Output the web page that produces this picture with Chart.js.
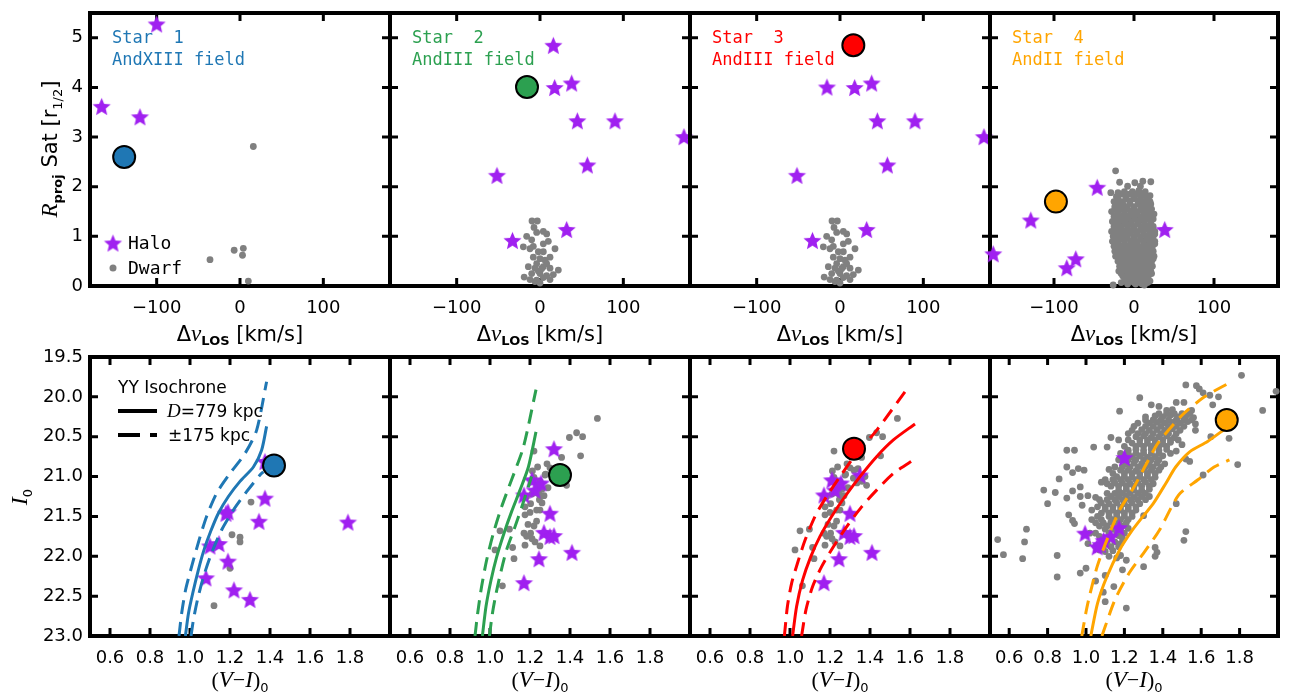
<!DOCTYPE html>
<html>
<head>
<meta charset="utf-8">
<script src="https://cdn.jsdelivr.net/npm/chart.js@4.4.0/dist/chart.umd.min.js"></script>
<style>
html, body { margin: 0; padding: 0; background: #fff; }
#wrap { position: relative; width: 1291px; height: 694px; overflow: hidden; background: #fff; }
#wrap canvas { position: absolute; left: 0; top: 0; }
</style>
</head>
<body>
<div id="wrap"></div>
<script>
// ---------------- data ----------------
// tick labels
const velTicks = [-100, 0, 100];
const radTicks = [0, 1, 2, 3, 4, 5];
const colTicks = [0.6, 0.8, 1.0, 1.2, 1.4, 1.6, 1.8];
const magTicks = [19.5, 20.0, 20.5, 21.0, 21.5, 22.0, 22.5, 23.0];

const starNames = ["Star  1", "Star  2", "Star  3", "Star  4"];
const fieldNames = ["AndXIII field", "AndIII field", "AndIII field", "AndII field"];

// the four target stars: [dv_LOS, R_proj] and [(V-I)_0, I_0]
const targetTop = [[-139, 2.60], [-15.6, 4.01], [16, 4.85], [-97.6, 1.70]];
const targetCmd = [[1.42, 20.86], [1.35, 20.98], [1.32, 20.65], [1.733, 20.29]];

// halo stars, top row
const haloAndXIIITop = [[-100, 5.28], [-166, 3.62], [-120, 3.41]];
const haloAndIIITop = [[17.6, 4.0], [38, 4.09], [44.8, 3.33], [90, 3.33], [172.8, 3.01],
  [56.8, 2.44], [-51.6, 2.23], [32, 1.14], [-33, 0.92]];
const haloAndIITop = [[-46, 1.99], [-129, 1.33], [38.4, 1.14], [-72.8, 0.55], [-84, 0.37], [-176, 0.65]];

// halo stars, bottom row
const haloAndXIIICmd = [[1.375, 20.81], [1.375, 21.27], [1.18, 21.46], [1.19, 21.44], [1.345, 21.56],
  [1.79, 21.57], [1.10, 21.87], [1.145, 21.84], [1.19, 22.06], [1.08, 22.27], [1.22, 22.42], [1.30, 22.54]];
const haloAndIIICmd = [[1.21, 21.04], [1.255, 21.08], [1.225, 21.17], [1.17, 21.23], [1.30, 21.46],
  [1.27, 21.70], [1.30, 21.75], [1.32, 21.74], [1.41, 21.95], [1.245, 22.03], [1.17, 22.33]];
const haloAndIICmd = [[1.20, 20.76], [0.995, 21.71], [1.172, 21.64], [1.128, 21.75], [1.092, 21.80],
  [1.058, 21.88], [1.075, 21.85]];

// dwarf members, top row
const dwarfAndXIIITop = [[16, 2.81], [-36, 0.53], [-7, 0.72], [4, 0.76], [3, 0.62], [10, 0.10]];
const dwarfAndIIITop = [[-9.6, 1.31], [-3.2, 1.31], [-7.2, 1.18], [-4, 1.08], [4, 1.10], [8, 1.05],
  [-16, 1.0], [-10, 0.93], [4, 0.85], [-20, 0.79], [-12, 0.75], [18, 0.75], [-2, 0.69], [4, 0.69],
  [-8, 0.58], [0, 0.55], [6, 0.52], [12, 0.58], [-4, 0.45], [-14, 0.39], [-6, 0.36], [4, 0.39],
  [12, 0.36], [22, 0.32], [-10, 0.25], [0, 0.25], [8, 0.21], [16, 0.23], [-19, 0.18], [-12, 0.13],
  [-4, 0.12], [4, 0.17], [12, 0.13], [0, 0.06], [-6, 0.09], [2, 0.35], [-2, 0.3], [8, 0.45],
  [-8, 0.8], [10, 0.9]];
const dwarfAndIITop = [
  [-23, 2.32], [-18, 2.09], [1, 2.08], [11, 2.11], [21, 2.10], [-29, 1.88], [-20, 1.88], [-8, 2.01], [8, 2.01], [20, 1.82],
  [-12, 1.9], [-2, 1.9], [6, 1.92], [14, 1.9],
  [-16, 1.85], [-6, 1.85], [4, 1.86], [12, 1.85],
  [-22, 1.8], [-10, 1.8], [0, 1.79], [8, 1.81], [15, 1.8],
  [-20, 1.75], [-10, 1.75], [0, 1.76], [8, 1.75], [16, 1.74],
  [-25, 1.7], [-15, 1.7], [-5, 1.71], [5, 1.7], [12, 1.69], [20, 1.7],
  [-21, 1.65], [-14, 1.65], [-5, 1.66], [5, 1.65], [14, 1.64], [21, 1.65],
  [-24, 1.6], [-18, 1.61], [-10, 1.6], [0, 1.6], [10, 1.59], [18, 1.6],
  [-24, 1.55], [-16, 1.55], [-8, 1.56], [0, 1.55], [8, 1.54], [16, 1.55], [22, 1.55],
  [-28, 1.5], [-20, 1.5], [-12, 1.51], [-4, 1.5], [4, 1.49], [12, 1.5], [20, 1.5],
  [-21, 1.45], [-12, 1.45], [-4, 1.46], [4, 1.45], [12, 1.44], [19, 1.45], [25, 1.45],
  [-25, 1.4], [-16, 1.4], [-8, 1.41], [0, 1.4], [8, 1.39], [16, 1.4], [22, 1.41],
  [-22, 1.35], [-15, 1.35], [-7, 1.36], [1, 1.35], [9, 1.34], [17, 1.35], [24, 1.35],
  [-27, 1.3], [-19, 1.3], [-11, 1.31], [-3, 1.3], [5, 1.29], [13, 1.3], [21, 1.3],
  [-21, 1.25], [-12, 1.25], [-4, 1.26], [5, 1.25], [13, 1.24], [21, 1.25],
  [-25, 1.2], [-17, 1.2], [-8, 1.21], [0, 1.2], [9, 1.19], [17, 1.2], [24, 1.2],
  [-24, 1.15], [-16, 1.15], [-8, 1.16], [0, 1.15], [8, 1.14], [16, 1.15], [23, 1.15],
  [-28, 1.1], [-20, 1.1], [-12, 1.11], [-4, 1.1], [4, 1.09], [12, 1.1], [20, 1.1], [26, 1.1],
  [-22, 1.05], [-14, 1.05], [-5, 1.06], [4, 1.05], [12, 1.04], [20, 1.05], [26, 1.05],
  [-26, 1.0], [-18, 1.0], [-9, 1.01], [0, 1.0], [8, 0.99], [16, 1.0], [24, 1.0],
  [-23, 0.95], [-16, 0.95], [-8, 0.96], [0, 0.95], [8, 0.94], [16, 0.95], [22, 0.95],
  [-27, 0.9], [-20, 0.9], [-12, 0.91], [-4, 0.9], [4, 0.89], [12, 0.9], [19, 0.9], [26, 0.9],
  [-21, 0.85], [-12, 0.85], [-4, 0.86], [4, 0.85], [12, 0.84], [20, 0.85], [26, 0.85],
  [-25, 0.8], [-17, 0.8], [-8, 0.81], [0, 0.8], [8, 0.79], [16, 0.8], [23, 0.8],
  [-20, 0.75], [-12, 0.75], [-3, 0.76], [5, 0.75], [13, 0.74], [20, 0.75],
  [-24, 0.7], [-16, 0.7], [-7, 0.71], [1, 0.7], [9, 0.69], [17, 0.7], [24, 0.7],
  [-19, 0.65], [-10, 0.65], [-2, 0.66], [7, 0.65], [15, 0.64], [22, 0.65],
  [-23, 0.6], [-14, 0.6], [-5, 0.61], [4, 0.6], [12, 0.59], [20, 0.6], [25, 0.6],
  [-17, 0.55], [-7, 0.55], [2, 0.56], [10, 0.55], [18, 0.54], [24, 0.55],
  [-20, 0.5], [-11, 0.5], [-2, 0.51], [6, 0.5], [14, 0.49], [22, 0.5],
  [-15, 0.45], [-5, 0.45], [4, 0.46], [12, 0.45], [20, 0.44],
  [-18, 0.4], [-9, 0.4], [0, 0.41], [8, 0.4], [16, 0.39], [23, 0.4],
  [-14, 0.35], [-6, 0.35], [2, 0.36], [10, 0.35], [18, 0.34],
  [-19, 0.3], [-10, 0.3], [-2, 0.31], [6, 0.3], [14, 0.29], [21, 0.3],
  [-16, 0.25], [-8, 0.25], [0, 0.26], [8, 0.25], [16, 0.24], [22, 0.25],
  [-14, 0.2], [-5, 0.2], [3, 0.21], [11, 0.2], [18, 0.2],
  [-9, 0.15], [-1, 0.15], [7, 0.16], [15, 0.15],
  [-12, 0.1], [-3, 0.1], [5, 0.11], [13, 0.1], [20, 0.1],
  [-16, 0.07], [0, 0.07], [8, 0.07], [17, 0.07],
  [-26, 0.02], [-8, 0.04], [2, 0.04], [10, 0.04], [13, 0.02]];

// dwarf members, bottom row
const dwarfAndXIIICmd = [[1.305, 21.32], [1.21, 21.73], [1.25, 21.76], [1.25, 21.82], [1.20, 22.15], [1.12, 22.62]];
const dwarfAndIIICmd = [[1.537, 20.27], [1.433, 20.45], [1.463, 20.50], [1.397, 20.51], [1.453, 20.74],
  [1.358, 20.76], [1.22, 20.68], [1.238, 20.88], [1.212, 20.93], [1.275, 20.98], [1.30, 20.89],
  [1.278, 20.97], [1.317, 21.02], [1.32, 20.92], [1.34, 20.90], [1.375, 21.0], [1.383, 21.11],
  [1.36, 21.06], [1.25, 21.06], [1.235, 21.12], [1.26, 21.16], [1.23, 21.20], [1.29, 21.14],
  [1.21, 21.22], [1.183, 21.25], [1.203, 21.34], [1.175, 21.38], [1.247, 21.29], [1.27, 21.24],
  [1.233, 21.42], [1.25, 21.42], [1.20, 21.45], [1.175, 21.48], [1.233, 21.56], [1.05, 21.68],
  [1.097, 21.66], [1.17, 21.71], [1.183, 21.75], [1.203, 21.71], [1.225, 21.82], [1.25, 21.87],
  [1.175, 21.86], [1.113, 21.89], [1.025, 21.92], [1.12, 22.03], [1.062, 22.37], [1.21, 21.78],
  [1.19, 21.60], [1.22, 21.62], [1.26, 21.33], [1.285, 20.84], [1.335, 21.08], [1.22, 21.01], [1.245, 21.22]];
const dwarfAndIICmd = [
  [1.81, 19.73], [1.52, 19.85], [1.575, 19.86], [1.59, 19.90], [1.61, 19.95], [1.99, 19.93], [1.645, 19.98],
  [1.28, 20.01], [1.69, 20.0], [1.47, 20.07], [1.51, 20.07], [1.34, 20.10], [1.38, 20.12], [1.66, 20.10],
  [1.175, 20.18], [1.42, 20.17], [1.55, 20.17], [1.92, 20.17], [1.45, 20.16],
  [1.38, 20.21], [1.42, 20.21], [1.46, 20.21], [1.50, 20.21], [1.54, 20.21],
  [1.31, 20.25], [1.36, 20.24], [1.40, 20.25], [1.44, 20.23], [1.48, 20.25], [1.52, 20.24], [1.56, 20.26],
  [1.31, 20.29], [1.35, 20.29], [1.39, 20.29], [1.43, 20.29], [1.47, 20.29], [1.51, 20.29], [1.55, 20.29],
  [1.27, 20.33], [1.33, 20.33], [1.37, 20.32], [1.41, 20.33], [1.45, 20.32], [1.49, 20.33], [1.53, 20.31], [1.57, 20.34],
  [1.25, 20.37], [1.31, 20.37], [1.35, 20.37], [1.39, 20.37], [1.43, 20.37], [1.47, 20.37], [1.51, 20.37],
  [1.24, 20.42], [1.29, 20.41], [1.33, 20.42], [1.37, 20.41], [1.41, 20.42], [1.45, 20.40], [1.49, 20.42], [1.57, 20.42],
  [1.22, 20.46], [1.27, 20.46], [1.31, 20.46], [1.35, 20.46], [1.39, 20.46], [1.43, 20.46], [1.47, 20.46],
  [1.13, 20.51], [1.17, 20.54], [1.26, 20.50], [1.30, 20.49], [1.34, 20.51], [1.38, 20.50], [1.42, 20.49], [1.46, 20.51], [1.65, 20.50], [1.745, 20.52],
  [1.22, 20.54], [1.28, 20.54], [1.32, 20.54], [1.36, 20.54], [1.40, 20.54], [1.44, 20.54], [1.48, 20.54],
  [1.24, 20.58], [1.28, 20.59], [1.32, 20.58], [1.36, 20.58], [1.40, 20.59], [1.44, 20.57], [1.50, 20.60],
  [1.20, 20.62], [1.26, 20.62], [1.30, 20.62], [1.34, 20.62], [1.38, 20.62], [1.42, 20.62],
  [0.90, 20.67], [0.94, 20.67], [1.04, 20.63], [1.11, 20.63], [1.22, 20.67], [1.26, 20.66], [1.30, 20.67], [1.34, 20.66], [1.38, 20.67], [1.42, 20.66], [1.47, 20.68],
  [1.18, 20.71], [1.22, 20.71], [1.26, 20.71], [1.30, 20.71], [1.34, 20.71], [1.38, 20.71], [1.44, 20.71],
  [1.20, 20.75], [1.24, 20.75], [1.28, 20.74], [1.32, 20.76], [1.36, 20.75], [1.40, 20.74], [1.52, 20.78],
  [1.17, 20.79], [1.22, 20.79], [1.26, 20.79], [1.30, 20.79], [1.34, 20.79], [1.38, 20.79],
  [0.90, 20.88], [0.99, 20.92], [1.21, 20.84], [1.25, 20.83], [1.29, 20.84], [1.33, 20.85], [1.37, 20.83], [1.41, 20.84], [1.54, 20.81], [1.79, 20.85],
  [1.15, 20.88], [1.19, 20.88], [1.23, 20.88], [1.27, 20.88], [1.31, 20.88], [1.35, 20.88], [1.39, 20.88],
  [0.93, 20.95], [0.96, 20.90], [1.12, 20.91], [1.18, 20.92], [1.22, 20.92], [1.26, 20.93], [1.30, 20.91], [1.34, 20.92], [1.38, 20.92],
  [1.14, 20.96], [1.20, 20.96], [1.24, 20.96], [1.28, 20.96], [1.32, 20.96], [1.36, 20.96],
  [0.86, 21.03], [1.16, 21.0], [1.20, 21.0], [1.24, 21.01], [1.28, 21.0], [1.32, 20.99], [1.36, 21.01], [1.61, 20.98],
  [1.10, 21.04], [1.14, 21.04], [1.18, 21.04], [1.22, 21.04], [1.26, 21.04], [1.30, 21.04], [1.34, 21.04],
  [1.08, 21.07], [1.11, 21.09], [1.15, 21.08], [1.19, 21.08], [1.23, 21.09], [1.27, 21.08], [1.31, 21.07], [1.35, 21.09],
  [1.13, 21.12], [1.17, 21.12], [1.21, 21.12], [1.25, 21.12], [1.29, 21.12], [1.33, 21.12],
  [0.78, 21.17], [0.84, 21.20], [0.93, 21.18], [0.97, 21.13], [1.17, 21.17], [1.21, 21.16], [1.25, 21.17], [1.29, 21.17], [1.33, 21.16],
  [1.11, 21.21], [1.15, 21.21], [1.19, 21.21], [1.23, 21.21], [1.27, 21.21], [1.31, 21.21],
  [0.90, 21.27], [0.97, 21.25], [1.01, 21.24], [1.05, 21.26], [1.13, 21.25], [1.17, 21.25], [1.21, 21.24], [1.25, 21.26], [1.29, 21.25], [1.33, 21.25],
  [1.07, 21.29], [1.11, 21.29], [1.15, 21.29], [1.19, 21.29], [1.23, 21.29], [1.27, 21.29], [1.31, 21.29],
  [0.80, 21.34], [0.98, 21.36], [1.08, 21.33], [1.12, 21.34], [1.16, 21.33], [1.20, 21.34], [1.24, 21.33], [1.28, 21.34], [1.47, 21.34],
  [1.06, 21.38], [1.10, 21.38], [1.14, 21.38], [1.18, 21.38], [1.22, 21.38], [1.26, 21.38],
  [1.03, 21.42], [1.10, 21.41], [1.14, 21.42], [1.18, 21.42], [1.22, 21.41], [1.26, 21.42],
  [1.08, 21.46], [1.12, 21.46], [1.16, 21.46], [1.20, 21.46], [1.24, 21.46],
  [0.91, 21.48], [0.93, 21.55], [1.06, 21.50], [1.12, 21.50], [1.16, 21.49], [1.20, 21.50], [1.24, 21.50], [1.30, 21.49],
  [1.03, 21.54], [1.08, 21.54], [1.14, 21.54], [1.18, 21.54], [1.22, 21.54],
  [0.94, 21.59], [1.05, 21.58], [1.09, 21.58], [1.13, 21.57], [1.17, 21.58], [1.21, 21.58],
  [1.07, 21.62], [1.11, 21.62], [1.15, 21.62], [1.19, 21.62],
  [0.69, 21.66], [1.02, 21.71], [1.10, 21.66], [1.14, 21.66], [1.18, 21.67], [1.22, 21.65], [1.52, 21.69],
  [1.05, 21.71], [1.12, 21.71], [1.16, 21.71], [1.20, 21.71],
  [1.01, 21.84], [1.07, 21.75], [1.17, 21.74], [1.19, 21.78], [1.51, 21.80],
  [0.54, 21.79], [0.68, 21.82], [1.11, 21.83], [1.15, 21.82], [1.18, 21.84],
  [1.05, 21.88], [1.09, 21.88], [1.13, 21.88], [1.17, 21.88],
  [1.07, 21.92], [1.10, 21.94], [1.14, 21.93], [1.36, 21.89], [1.37, 21.95],
  [0.57, 21.98], [0.85, 21.99], [1.12, 22.0], [1.16, 22.02], [1.18, 21.99], [1.36, 22.0],
  [0.67, 22.03], [1.21, 22.05], [1.00, 22.15], [1.19, 22.17], [1.30, 22.13], [0.97, 22.21], [1.10, 22.24],
  [0.85, 22.26], [1.05, 22.31], [1.145, 22.38], [1.09, 22.45], [1.10, 22.57], [1.21, 22.65]];

// YY isochrones (solid: best distance, dashed: near / far)
const isoAndXIII = [[0.977, 23.0], [0.992, 22.72], [1.013, 22.47], [1.042, 22.17], [1.07, 21.92], [1.103, 21.69],
  [1.142, 21.46], [1.192, 21.25], [1.25, 21.06], [1.317, 20.88], [1.358, 20.67], [1.383, 20.37]];
const isoAndXIIINear = [[0.945, 23.0], [0.958, 22.72], [0.978, 22.42], [1.008, 22.13], [1.045, 21.80], [1.083, 21.50],
  [1.133, 21.21], [1.20, 20.96], [1.275, 20.71], [1.333, 20.42], [1.383, 19.81]];
const isoAndXIIIFar = [[1.005, 23.0], [1.017, 22.8], [1.037, 22.55], [1.067, 22.26], [1.108, 21.96], [1.158, 21.67],
  [1.217, 21.42], [1.283, 21.19], [1.35, 20.98], [1.367, 20.94]];

const isoAndIIIa = [[0.962, 23.0], [0.98, 22.63], [1.005, 22.30], [1.033, 22.01], [1.07, 21.71], [1.108, 21.44],
  [1.15, 21.17], [1.192, 20.88], [1.23, 20.44]];
const isoAndIIIaNear = [[0.925, 23.0], [0.938, 22.72], [0.958, 22.38], [0.983, 22.05], [1.017, 21.71], [1.058, 21.38],
  [1.108, 21.04], [1.167, 20.63], [1.23, 19.91]];
const isoAndIIIaFar = [[0.997, 23.0], [1.012, 22.72], [1.03, 22.47], [1.053, 22.21], [1.083, 21.92], [1.125, 21.63],
  [1.167, 21.32], [1.208, 21.0]];

const isoAndIIIb = [[1.013, 23.0], [1.033, 22.63], [1.063, 22.30], [1.103, 22.01], [1.15, 21.75], [1.208, 21.50],
  [1.275, 21.25], [1.35, 21.0], [1.433, 20.75], [1.517, 20.54], [1.625, 20.34]];
const isoAndIIIbNear = [[0.972, 23.0], [0.987, 22.63], [1.008, 22.34], [1.037, 22.09], [1.075, 21.80], [1.125, 21.50],
  [1.183, 21.25], [1.25, 21.0], [1.333, 20.71], [1.433, 20.42], [1.597, 19.86]];
const isoAndIIIbFar = [[1.058, 23.0], [1.08, 22.67], [1.113, 22.38], [1.158, 22.13], [1.217, 21.88], [1.283, 21.63],
  [1.358, 21.38], [1.433, 21.17], [1.517, 20.96], [1.625, 20.78]];

const isoAndII = [[1.025, 23.0], [1.06, 22.59], [1.108, 22.26], [1.175, 21.92], [1.242, 21.67], [1.30, 21.49],
  [1.35, 21.34], [1.417, 21.08], [1.467, 20.88], [1.54, 20.69], [1.633, 20.56], [1.725, 20.40]];
const isoAndIINear = [[0.978, 23.0], [1.0, 22.7], [1.017, 22.51], [1.058, 22.13], [1.108, 21.8], [1.175, 21.42],
  [1.25, 21.13], [1.317, 20.83], [1.375, 20.58], [1.5, 20.23], [1.617, 20.0], [1.742, 19.83]];
const isoAndIIFar = [[1.083, 23.0], [1.15, 22.55], [1.225, 22.21], [1.30, 21.96], [1.383, 21.67], [1.483, 21.23],
  [1.583, 21.04], [1.667, 20.88], [1.747, 20.79]];

// ---------------- style / layout ----------------
const W = 1291, H = 694;
const colLeft = [90, 390, 690, 990], colRight = [390, 690, 990, 1289];
const rowTop = [10, 357], rowBottom = [286, 636];
const starColors = ["#1f77b4", "#2ca050", "#ff0000", "#ffa500"];
const haloColor = "#a020f0", dwarfColor = "#808080";
const SANS = "'DejaVu Sans'", MONO = "'DejaVu Sans Mono'", SERIF = "'Liberation Serif'";

Chart.defaults.font.family = SANS;
Chart.defaults.font.size = 18;
Chart.defaults.color = "#000";

function makeStar(r, color) {
  const c = document.createElement("canvas");
  const s = Math.ceil(2 * r + 2);
  c.width = s; c.height = s;
  const g = c.getContext("2d");
  g.fillStyle = color;
  g.beginPath();
  for (let i = 0; i < 10; i++) {
    const a = -Math.PI / 2 + i * Math.PI / 5;
    const rr = i % 2 ? r * 0.45 : r;
    g.lineTo(s / 2 + rr * Math.cos(a), s / 2 + 1 + rr * Math.sin(a));
  }
  g.closePath();
  g.fill();
  return c;
}
const starImg = makeStar(9.5, haloColor);

const pts = a => a.map(p => ({ x: p[0], y: p[1] }));

// rich text: parts = [text, font, dy]; centred on x, baseline y
function richText(ctx, parts, x, y, rot) {
  ctx.save();
  ctx.translate(x, y);
  if (rot) ctx.rotate(rot);
  ctx.textAlign = "left";
  ctx.textBaseline = "alphabetic";
  ctx.fillStyle = "#000";
  let w = 0;
  parts.forEach(p => { ctx.font = p[1]; w += ctx.measureText(p[0]).width; });
  let cx = -w / 2;
  parts.forEach(p => { ctx.font = p[1]; ctx.fillText(p[0], cx, p[2] || 0); cx += ctx.measureText(p[0]).width; });
  ctx.restore();
}

function axis(min, max, ticks, fmt, show, horiz, reverse) {
  return {
    type: "linear", min: min, max: max, reverse: !!reverse,
    grid: { display: false, drawTicks: false },
    border: { display: false },
    ticks: { display: show, padding: horiz ? 12 : 7, autoSkip: false, maxRotation: 0, callback: fmt },
    afterBuildTicks: s => { s.ticks = ticks.map(v => ({ value: v })); },
    afterFit: s => {
      if (horiz) s.height = 40; else s.width = 60;
      s.paddingTop = 0; s.paddingBottom = 0; s.paddingLeft = 0; s.paddingRight = 0;
    }
  };
}

const velFmt = v => v < 0 ? "\u2212" + Math.abs(v) : String(v);
const oneDec = v => Number(v).toFixed(1);

function makeDecor(p) {
  return {
    id: "decor" + p.row + p.col,
    beforeDatasetsDraw(chart) {
      const ctx = chart.ctx, a = chart.chartArea, x = chart.scales.x, y = chart.scales.y;
      ctx.save();
      ctx.strokeStyle = "#000";
      ctx.lineWidth = 3;
      ctx.beginPath();
      p.xTicks.forEach(v => {
        const px = x.getPixelForValue(v);
        ctx.moveTo(px, a.bottom); ctx.lineTo(px, a.bottom - 8);
        ctx.moveTo(px, a.top); ctx.lineTo(px, a.top + 8);
      });
      p.yTicks.forEach(v => {
        const py = y.getPixelForValue(v);
        ctx.moveTo(a.left, py); ctx.lineTo(a.left + 8, py);
        ctx.moveTo(a.right, py); ctx.lineTo(a.right - 8, py);
      });
      ctx.stroke();
      ctx.lineWidth = 4;
      ctx.strokeRect(a.left, a.top, a.right - a.left, a.bottom - a.top);
      ctx.restore();
    },
    afterDraw(chart) {
      const ctx = chart.ctx, a = chart.chartArea;
      const cx = (a.left + a.right) / 2;
      ctx.save();
      if (p.row === 0) {
        richText(ctx, [["\u0394", "21px " + SANS], ["v", "italic 23px " + SERIF], ["LOS", "bold 13px " + SANS, 4],
          [" [km/s]", "21px " + SANS]], cx, 341);
        ctx.font = "17px " + MONO;
        ctx.fillStyle = p.color;
        ctx.textAlign = "left";
        ctx.fillText(starNames[p.col], a.left + 22, 43);
        ctx.fillText(fieldNames[p.col], a.left + 22, 65);
        if (p.col === 0) {
          richText(ctx, [["R", "italic 23px " + SERIF], ["proj", "bold 13px " + SANS, 5], [" Sat [r", "21px " + SANS],
            ["1/2", "13px " + SANS, 5], ["]", "21px " + SANS]], 57, 149, -Math.PI / 2);
          ctx.drawImage(starImg, 113 - starImg.width / 2, 243 - starImg.height / 2);
          ctx.fillStyle = dwarfColor;
          ctx.beginPath(); ctx.arc(113, 268, 3.5, 0, 2 * Math.PI); ctx.fill();
          ctx.fillStyle = "#000";
          ctx.font = "18px " + MONO;
          ctx.fillText("Halo", 128, 249);
          ctx.fillText("Dwarf", 128, 274);
        }
      } else {
        richText(ctx, [["(", "22px " + SERIF], ["V", "italic 23px " + SERIF], ["\u2212", "22px " + SERIF],
          ["I", "italic 23px " + SERIF], [")", "22px " + SERIF], ["0", "13px " + SANS, 5]], cx, 687);
        if (p.col === 0) {
          richText(ctx, [["I", "italic 24px " + SERIF], ["0", "13px " + SANS, 5]], 27, 497, -Math.PI / 2);
          ctx.fillStyle = "#000";
          ctx.textAlign = "left";
          ctx.font = "17px " + SANS;
          ctx.fillText("YY Isochrone", 118, 393);
          ctx.font = "italic 19px " + SERIF;
          ctx.fillText("D", 167, 417);
          const dw = ctx.measureText("D").width;
          ctx.font = "17px " + SANS;
          ctx.fillText("=779 kpc", 167 + dw, 417);
          ctx.fillText("\u00b1175 kpc", 168, 441);
          ctx.strokeStyle = "#000";
          ctx.lineWidth = 4;
          ctx.beginPath();
          ctx.moveTo(118, 411); ctx.lineTo(157, 411);
          ctx.moveTo(118, 435); ctx.lineTo(140, 435);
          ctx.moveTo(150, 435); ctx.lineTo(157, 435);
          ctx.stroke();
        }
      }
      ctx.restore();
    }
  };
}

const panels = [
  { row: 0, col: 0, target: targetTop[0], halo: haloAndXIIITop, dwarf: dwarfAndXIIITop, lines: [] },
  { row: 0, col: 1, target: targetTop[1], halo: haloAndIIITop.concat([targetTop[2]]), dwarf: dwarfAndIIITop, lines: [] },
  { row: 0, col: 2, target: targetTop[2], halo: haloAndIIITop.concat([targetTop[1]]), dwarf: dwarfAndIIITop, lines: [] },
  { row: 0, col: 3, target: targetTop[3], halo: haloAndIITop, dwarf: dwarfAndIITop, lines: [] },
  { row: 1, col: 0, target: targetCmd[0], halo: haloAndXIIICmd, dwarf: dwarfAndXIIICmd, lines: [isoAndXIII, isoAndXIIINear, isoAndXIIIFar] },
  { row: 1, col: 1, target: targetCmd[1], halo: haloAndIIICmd.concat([targetCmd[2]]), dwarf: dwarfAndIIICmd, lines: [isoAndIIIa, isoAndIIIaNear, isoAndIIIaFar] },
  { row: 1, col: 2, target: targetCmd[2], halo: haloAndIIICmd.concat([targetCmd[1]]), dwarf: dwarfAndIIICmd, lines: [isoAndIIIb, isoAndIIIbNear, isoAndIIIbFar] },
  { row: 1, col: 3, target: targetCmd[3], halo: haloAndIICmd, dwarf: dwarfAndIICmd, lines: [isoAndII, isoAndIINear, isoAndIIFar] }
];

const wrap = document.getElementById("wrap");
panels.forEach(p => {
  p.color = starColors[p.col];
  p.xTicks = p.row === 0 ? velTicks : colTicks;
  p.yTicks = p.row === 0 ? radTicks : magTicks;
  const L = colLeft[p.col], R = colRight[p.col], T = rowTop[p.row], B = rowBottom[p.row];

  const canvas = document.createElement("canvas");
  canvas.width = W; canvas.height = H;
  canvas.style.width = W + "px"; canvas.style.height = H + "px";
  wrap.appendChild(canvas);

  const datasets = [
    { data: pts([p.target]), pointRadius: 11, backgroundColor: p.color, borderColor: "#000", borderWidth: 2, clip: false, order: 0 }
  ];
  p.lines.forEach((l, i) => datasets.push({
    data: pts(l), showLine: true, pointRadius: 0, borderColor: p.color, borderWidth: 3,
    borderDash: i ? [14, 8] : [], fill: false, tension: 0.25, order: 1
  }));
  datasets.push({ data: pts(p.halo), pointStyle: starImg, pointRadius: 9, clip: false, order: 2 });
  datasets.push({ data: pts(p.dwarf), pointRadius: p.row === 0 ? 3.4 : 3.4, backgroundColor: dwarfColor, borderWidth: 0, clip: false, order: 3 });

  const xs = p.row === 0 ? axis(-180, 180, velTicks, velFmt, true, true) : axis(0.5, 2.0, colTicks, oneDec, true, true);
  const ys = p.row === 0 ? axis(0, 5.5, radTicks, v => String(v), p.col === 0, false)
                         : axis(19.5, 23.0, magTicks, oneDec, p.col === 0, false, true);

  new Chart(canvas.getContext("2d"), {
    type: "scatter",
    data: { datasets: datasets },
    options: {
      responsive: false,
      animation: false,
      events: [],
      layout: { padding: { left: L - 60, right: W - R, top: T, bottom: H - B - 40 } },
      scales: { x: xs, y: ys },
      plugins: { legend: { display: false }, tooltip: { enabled: false } }
    },
    plugins: [makeDecor(p)]
  });
});
</script>
</body>
</html>
